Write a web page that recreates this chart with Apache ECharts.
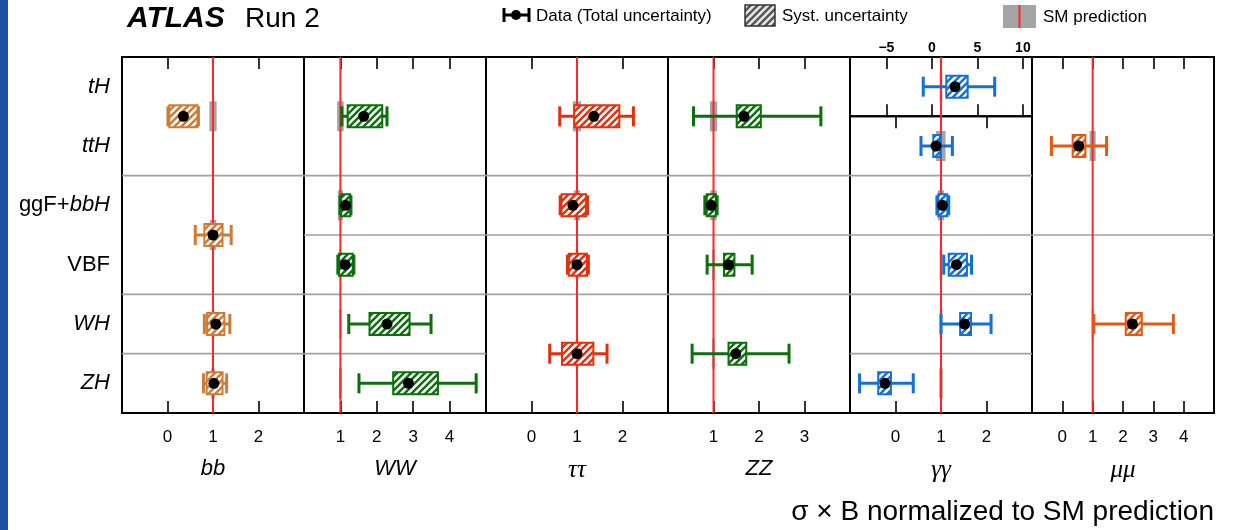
<!DOCTYPE html>
<html>
<head>
<meta charset="utf-8">
<script src="https://cdn.jsdelivr.net/npm/echarts@6/dist/echarts.min.js"></script>
<style>
  html, body { margin: 0; padding: 0; background: #fff; }
  #chart { width: 1235px; height: 530px; }
</style>
</head>
<body>
<div id="chart"></div>
<script>
// Production processes, top to bottom
const rows = ['tH', 'ttH', 'ggF+bbH', 'VBF', 'WH', 'ZH'];

// Per decay channel: merged row groups [first, last], signal strength mu,
// total and systematic uncertainties [down, up], SM prediction uncertainty [down, up]
const bbGroups = [[0, 1], [2, 3], [4, 4], [5, 5]];
const bbMu  = [0.35, 1.00, 1.06, 1.02];
const bbTot = [[0.34, 0.33], [0.39, 0.40], [0.25, 0.31], [0.23, 0.28]];
const bbSys = [[0.31, 0.31], [0.19, 0.21], [0.19, 0.19], [0.16, 0.19]];
const bbSm  = [[0.08, 0.08], [0.07, 0.07], [0.03, 0.03], [0.04, 0.04]];

const wwGroups = [[0, 1], [2, 2], [3, 3], [4, 4], [5, 5]];
const wwMu  = [1.64, 1.14, 1.13, 2.28, 2.87];
const wwTot = [[0.60, 0.64], [0.15, 0.15], [0.20, 0.24], [1.05, 1.21], [1.36, 1.86]];
const wwSys = [[0.44, 0.51], [0.12, 0.13], [0.17, 0.21], [0.48, 0.62], [0.42, 0.81]];
const wwSm  = [[0.09, 0.09], [0.07, 0.07], [0.03, 0.03], [0.03, 0.03], [0.04, 0.04]];

const ttGroups = [[0, 1], [2, 2], [3, 3], [4, 5]];
const ttMu  = [1.37, 0.91, 1.00, 1.00];
const ttTot = [[0.75, 0.87], [0.28, 0.32], [0.21, 0.25], [0.60, 0.66]];
const ttSys = [[0.43, 0.56], [0.25, 0.29], [0.18, 0.22], [0.33, 0.36]];
const ttSm  = [[0.09, 0.09], [0.07, 0.07], [0.03, 0.03], [0.03, 0.03]];

const zzGroups = [[0, 1], [2, 2], [3, 3], [4, 5]];
const zzMu  = [1.67, 0.95, 1.33, 1.49];
const zzTot = [[1.11, 1.69], [0.14, 0.13], [0.47, 0.52], [0.96, 1.17]];
const zzSys = [[0.16, 0.37], [0.10, 0.10], [0.10, 0.13], [0.16, 0.23]];
const zzSm  = [[0.08, 0.08], [0.07, 0.07], [0.03, 0.03], [0.03, 0.03]];

const yyGroups = [[0, 0], [1, 1], [2, 2], [3, 3], [4, 4], [5, 5]];
const yyMu  = [2.54, 0.89, 1.03, 1.34, 1.52, -0.23];
const yyTot = [[3.49, 4.36], [0.33, 0.36], [0.12, 0.14], [0.28, 0.33], [0.52, 0.58], [0.56, 0.62]];
const yySys = [[0.96, 1.39], [0.06, 0.09], [0.09, 0.11], [0.17, 0.23], [0.10, 0.14], [0.15, 0.13]];
const yySm  = [[0.15, 0.15], [0.11, 0.10], [0.07, 0.07], [0.03, 0.03], [0.03, 0.03], [0.04, 0.04]];

const mmGroups = [[0, 2], [3, 5]];
const mmMu  = [0.54, 2.31];
const mmTot = [[0.90, 0.92], [1.27, 1.35]];
const mmSys = [[0.20, 0.22], [0.22, 0.31]];
const mmSm  = [[0.10, 0.10], [0.03, 0.03]];

// Axis ranges and labelled ticks
const bbRange = [-1, 3], bbTicks = [0, 1, 2];
const wwRange = [0, 5],  wwTicks = [1, 2, 3, 4];
const ttRange = [-1, 3], ttTicks = [0, 1, 2];
const zzRange = [0, 4],  zzTicks = [1, 2, 3];
const yyRange = [-1, 3], yyTicks = [0, 1, 2];
const yyTHRange = [-9, 11], yyTHTicks = [-5, 0, 5, 10];
const mmRange = [-1, 5], mmTicks = [0, 1, 2, 3, 4];

const SANS = '"Liberation Sans", Arial, Helvetica, sans-serif';
const SERIF = '"Liberation Serif", "Times New Roman", serif';
const RED = '#ff2626';
const SM_GREY = '#a4a4a4';

const panels = [
  { name: 'bb', serif: false, color: '#cf7a35', groups: bbGroups, mu: bbMu, tot: bbTot, sys: bbSys, sm: bbSm,
    frames: [{ rows: [0, 6], range: bbRange, ticks: bbTicks }] },
  { name: 'WW', serif: false, color: '#0b6f0b', groups: wwGroups, mu: wwMu, tot: wwTot, sys: wwSys, sm: wwSm,
    frames: [{ rows: [0, 6], range: wwRange, ticks: wwTicks }] },
  { name: 'ττ', serif: true, color: '#e2300e', groups: ttGroups, mu: ttMu, tot: ttTot, sys: ttSys, sm: ttSm,
    frames: [{ rows: [0, 6], range: ttRange, ticks: ttTicks }] },
  { name: 'ZZ', serif: false, color: '#0b6f0b', groups: zzGroups, mu: zzMu, tot: zzTot, sys: zzSys, sm: zzSm,
    frames: [{ rows: [0, 6], range: zzRange, ticks: zzTicks }] },
  { name: 'γγ', serif: true, color: '#1470d2', groups: yyGroups, mu: yyMu, tot: yyTot, sys: yySys, sm: yySm,
    frames: [{ rows: [0, 1], range: yyTHRange, ticks: yyTHTicks, topLabels: true },
             { rows: [1, 6], range: yyRange, ticks: yyTicks }] },
  { name: 'μμ', serif: true, color: '#e05a16', groups: mmGroups, mu: mmMu, tot: mmTot, sys: mmSys, sm: mmSm,
    frames: [{ rows: [0, 6], range: mmRange, ticks: mmTicks }] }
];

// Layout of the panel block
const LEFT = 122, PANEL_W = 182, TOP = 57, HEIGHT = 356;
const ROW_H = HEIGHT / rows.length;

function hatch(color, bg) {
  const s = 7;
  const c = document.createElement('canvas');
  c.width = c.height = s;
  const g = c.getContext('2d');
  g.fillStyle = bg; g.fillRect(0, 0, s, s);
  g.strokeStyle = color; g.lineWidth = 2.4;
  g.beginPath();
  for (const o of [-s, 0, s]) { g.moveTo(o - 2, s + 2); g.lineTo(o + s + 2, -2); }
  g.stroke();
  return { image: c, repeat: 'repeat' };
}

const fmtTick = v => (v < 0 ? '\u2212' + Math.abs(v) : String(v));
// process names: production modes in roman, particle content in italics
const rowLabel = name => name.split('+').map((part, i) => {
  const upright = part === 'ggF' || part === 'VBF';
  return (i > 0 ? '{up|+}' : '') + (upright ? '{up|' + part + '}' : '{it|' + part + '}');
}).join('');

const grids = [], xAxes = [], yAxes = [], series = [];

panels.forEach((p, pi) => {
  const pattern = hatch(p.color, '#ffffff');
  p.frames.forEach((f, fi) => {
    const gi = grids.length;
    const top = TOP + f.rows[0] * ROW_H;
    const h = (f.rows[1] - f.rows[0]) * ROW_H;
    const isLast = fi === p.frames.length - 1;
    grids.push({ left: LEFT + pi * PANEL_W, top: top, width: PANEL_W, height: h,
      show: true, borderColor: '#000', borderWidth: 2, backgroundColor: 'transparent', containLabel: false });

    const tick = { show: true, inside: true, length: 12, customValues: f.ticks, lineStyle: { color: '#000', width: 1.6 } };
    // bottom axis
    xAxes.push({ type: 'value', gridIndex: gi, position: 'bottom', min: f.range[0], max: f.range[1],
      axisLine: { show: false, onZero: false }, splitLine: { show: false }, axisTick: tick,
      axisLabel: { show: isLast, customValues: f.ticks, formatter: fmtTick, margin: 16,
        fontSize: 17, color: '#000', fontFamily: SANS },
      name: isLast ? p.name : '', nameLocation: 'middle', nameGap: 45,
      nameTextStyle: { fontSize: p.serif ? 25 : 22, fontStyle: 'italic', color: '#000',
        fontFamily: p.serif ? SERIF : SANS } });
    // top axis
    xAxes.push({ type: 'value', gridIndex: gi, position: 'top', min: f.range[0], max: f.range[1],
      axisLine: { show: false, onZero: false }, splitLine: { show: false }, axisTick: tick,
      axisLabel: { show: !!f.topLabels, customValues: f.ticks, formatter: fmtTick, margin: 2,
        fontSize: 14, fontWeight: 'bold', color: '#000', fontFamily: SANS } });
    const withRows = pi === 0;
    yAxes.push({ type: 'value', gridIndex: gi, min: f.rows[0], max: f.rows[1], inverse: true,
      axisLine: { show: false, onZero: false }, splitLine: { show: false }, axisTick: { show: false },
      axisLabel: { show: withRows, customValues: rows.map((r, i) => i + 0.5), margin: 12,
        formatter: v => rowLabel(rows[Math.floor(v)]),
        rich: { it: { fontSize: 22, fontStyle: 'italic', fontFamily: SANS, color: '#000' },
                up: { fontSize: 22, fontFamily: SANS, color: '#000' } } } });
    const xi = xAxes.length - 2, yi = yAxes.length - 1;

    // groups measured inside this frame
    const idx = p.groups.map((g, k) => k).filter(k => p.groups[k][0] >= f.rows[0] && p.groups[k][1] < f.rows[1]);
    const center = k => (p.groups[k][0] + p.groups[k][1] + 1) / 2;

    // separators between measured groups
    const seps = idx.slice(1).map(k => p.groups[k][0]).filter(b => b > f.rows[0] && b < f.rows[1]);
    series.push({ type: 'custom', xAxisIndex: xi, yAxisIndex: yi, z: 1, silent: true,
      data: seps.map(b => [f.range[0], b]),
      renderItem: (params, api) => {
        const cs = params.coordSys;
        const y = api.coord([api.value(0), api.value(1)])[1];
        return { type: 'line', shape: { x1: cs.x, y1: y, x2: cs.x + cs.width, y2: y },
          style: { stroke: '#a0a0a0', lineWidth: 1.6 } };
      } });

    // SM prediction bands
    series.push({ type: 'custom', xAxisIndex: xi, yAxisIndex: yi, z: 2, silent: true,
      data: idx.map(k => [1, p.sm[k][0], p.sm[k][1], center(k)]),
      renderItem: (params, api) => {
        const y = api.value(3);
        const c = api.coord([1, y]);
        const x0 = api.coord([1 - api.value(1), y])[0];
        const x1 = api.coord([1 + api.value(2), y])[0];
        return { type: 'rect', shape: { x: x0, y: c[1] - 15, width: Math.max(x1 - x0, 1), height: 30 },
          style: { fill: SM_GREY } };
      } });

    // SM value line
    series.push({ type: 'line', xAxisIndex: xi, yAxisIndex: yi, z: 3, silent: true, symbol: 'none',
      data: [[1, f.rows[0]], [1, f.rows[1]]], lineStyle: { color: RED, width: 2 } });

    // measurements
    series.push({ type: 'custom', xAxisIndex: xi, yAxisIndex: yi, z: 4, silent: true,
      data: idx.map(k => [p.mu[k], p.tot[k][0], p.tot[k][1], p.sys[k][0], p.sys[k][1], center(k)]),
      renderItem: (params, api) => {
        const mu = api.value(0), y = api.value(5);
        const c = api.coord([mu, y]);
        const tl = api.coord([mu - api.value(1), y])[0];
        const th = api.coord([mu + api.value(2), y])[0];
        const sl = api.coord([mu - api.value(3), y])[0];
        const sh = api.coord([mu + api.value(4), y])[0];
        const st = { stroke: p.color, lineWidth: 3 };
        return { type: 'group', children: [
          { type: 'line', shape: { x1: tl, y1: c[1], x2: th, y2: c[1] }, style: st },
          { type: 'line', shape: { x1: tl, y1: c[1] - 10, x2: tl, y2: c[1] + 10 }, style: st },
          { type: 'line', shape: { x1: th, y1: c[1] - 10, x2: th, y2: c[1] + 10 }, style: st },
          { type: 'rect', shape: { x: sl, y: c[1] - 11, width: sh - sl, height: 22 },
            style: { fill: pattern, stroke: p.color, lineWidth: 2 } },
          { type: 'circle', shape: { cx: c[0], cy: c[1], r: 5.5 }, style: { fill: '#000' } }
        ] };
      } });
  });
});

const legendHatch = hatch('#555555', '#e6e6e6');

const graphic = [
  { type: 'rect', left: 0, top: 0, shape: { width: 8, height: 530 }, style: { fill: '#1b4f9f' } },
  { type: 'text', x: 127, y: 19, style: { text: 'ATLAS', fontSize: 30, fontWeight: 'bold', fontStyle: 'italic',
      fontFamily: SANS, fill: '#000', verticalAlign: 'middle' } },
  { type: 'text', x: 245, y: 19, style: { text: 'Run 2', fontSize: 28, fontFamily: SANS, fill: '#000', verticalAlign: 'middle' } },
  // legend: data
  { type: 'group', children: [
    { type: 'line', shape: { x1: 504, y1: 15, x2: 529, y2: 15 }, style: { stroke: '#000', lineWidth: 3 } },
    { type: 'line', shape: { x1: 504, y1: 8, x2: 504, y2: 22 }, style: { stroke: '#000', lineWidth: 3 } },
    { type: 'line', shape: { x1: 529, y1: 8, x2: 529, y2: 22 }, style: { stroke: '#000', lineWidth: 3 } },
    { type: 'circle', shape: { cx: 516, cy: 15, r: 5 }, style: { fill: '#000' } }
  ] },
  { type: 'text', x: 536, y: 16, style: { text: 'Data (Total uncertainty)', fontSize: 17, fontFamily: SANS, fill: '#000', verticalAlign: 'middle' } },
  // legend: systematics
  { type: 'rect', shape: { x: 745, y: 5, width: 30, height: 21 }, style: { fill: legendHatch, stroke: '#333', lineWidth: 1.5 } },
  { type: 'text', x: 782, y: 16, style: { text: 'Syst. uncertainty', fontSize: 17, fontFamily: SANS, fill: '#000', verticalAlign: 'middle' } },
  // legend: SM
  { type: 'rect', shape: { x: 1003, y: 5, width: 33, height: 23 }, style: { fill: SM_GREY } },
  { type: 'line', shape: { x1: 1019.5, y1: 5, x2: 1019.5, y2: 28 }, style: { stroke: RED, lineWidth: 2 } },
  { type: 'text', x: 1043, y: 17, style: { text: 'SM prediction', fontSize: 17, fontFamily: SANS, fill: '#000', verticalAlign: 'middle' } },
  // x-axis title
  { type: 'text', x: 1214, y: 512, style: { text: 'σ × B normalized to SM prediction', fontSize: 28, fontFamily: SANS,
      fill: '#000', align: 'right', verticalAlign: 'middle' } }
];

const chart = echarts.init(document.getElementById('chart'), null, { renderer: 'canvas', width: 1235, height: 530 });
chart.setOption({
  animation: false,
  backgroundColor: '#ffffff',
  grid: grids,
  xAxis: xAxes,
  yAxis: yAxes,
  series: series,
  graphic: graphic
});
</script>
</body>
</html>
